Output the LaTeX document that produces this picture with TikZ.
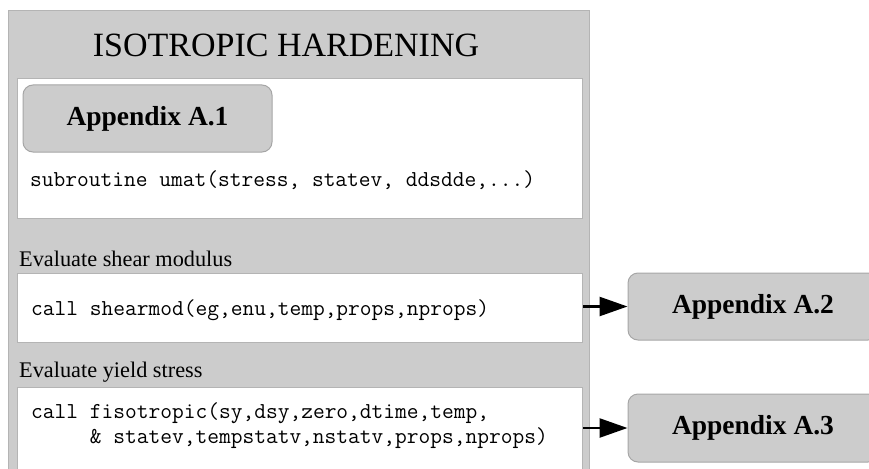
\documentclass[tikz,border=0pt]{standalone}
\usepackage{fontspec}
\setmainfont{Liberation Serif}
\setmonofont{Latin Modern Mono}
\usetikzlibrary{arrows.meta}
\definecolor{panelgray}{HTML}{CCCCCC}
\definecolor{panelline}{HTML}{B4B4B4}
\definecolor{appline}{HTML}{A6A6A6}
\begin{document}
\begin{tikzpicture}[x=1pt,y=-1pt,
  panel/.style={draw=panelline, fill=panelgray, line width=1pt, inner sep=0pt, anchor=north west},
  whitebox/.style={draw=panelline, fill=white, line width=1pt, inner sep=0pt, anchor=north west},
  appbox/.style={draw=appline, fill=panelgray, line width=1pt, rounded corners=10pt, inner sep=0pt, font=\fontsize{27.5}{30}\selectfont\bfseries},
  code/.style={font=\ttfamily\fontsize{22.8}{25}\selectfont, inner sep=0pt, anchor=base west},
  evallabel/.style={font=\fontsize{22.3}{26}\selectfont, inner sep=0pt, anchor=base west},
  conn/.style={line width=2.5pt, -{Triangle[length=28pt,width=19pt]}}
]
\clip (0,0) rectangle (869,468);
\node[panel, minimum width=581pt, minimum height=480pt] (panel) at (8,10) {};
\node[font=\fontsize{34}{40}\selectfont, inner sep=0pt, anchor=base] (title) at (286,57) {ISOTROPIC HARDENING};
\node[whitebox, minimum width=565pt, minimum height=140pt] (box1) at (17,78) {};
\node[appbox, minimum width=249pt, minimum height=67pt] (a1) at (147.5,118.5) {Appendix A.1};
\node[code] (c1) at (30,186) {subroutine umat(stress, statev, ddsdde,...)};
\node[evallabel] (l2) at (19,266) {Evaluate shear modulus};
\node[whitebox, minimum width=565pt, minimum height=69pt] (box2) at (17,273) {};
\node[code] (c2) at (31,315) {call shearmod(eg,enu,temp,props,nprops)};
\node[evallabel] (l3) at (19,377) {Evaluate yield stress};
\node[whitebox, minimum width=565pt, minimum height=100pt] (box3) at (17,387) {};
\node[code] (c3) at (31,418) {call fisotropic(sy,dsy,zero,dtime,temp,};
\node[code] (c3b) at ([yshift=-25pt]c3.base west) {\phantom{call\ }\& statev,tempstatv,nstatv,props,nprops)};
\node[appbox, minimum width=250pt, minimum height=67pt] (a2) at (753,306.5) {Appendix A.2};
\node[appbox, minimum width=250pt, minimum height=68pt] (a3) at (753,428) {Appendix A.3};
\draw[conn] (box2.east |- a2.west) -- (a2.west);
\draw[conn] (box3.east |- a3.west) -- (a3.west);
\end{tikzpicture}
\end{document}
